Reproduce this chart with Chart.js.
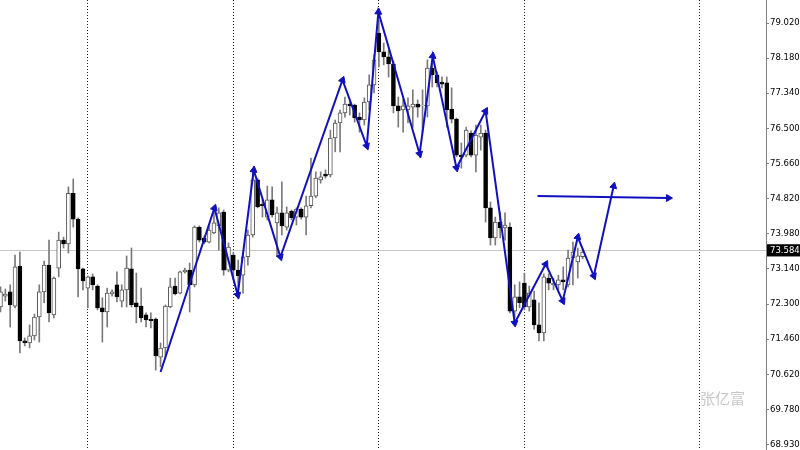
<!DOCTYPE html>
<html>
<head>
<meta charset="utf-8">
<script src="https://cdn.jsdelivr.net/npm/chart.js@4.4.1/dist/chart.umd.min.js"></script>
<style>
  html, body { margin: 0; padding: 0; background: #fff; }
  #wrap { width: 800px; height: 450px; }
</style>
</head>
<body>
<div id="wrap"><canvas id="grafica" width="800" height="450"></canvas></div>
<script>
/* Velas H4: apertura, máximo, mínimo, cierre */
const opens = [
  72.23, 72.49, 72.59, 72.25, 73.21, 71.42, 71.37, 71.54, 71.99, 72.59,
  73.23, 72.04, 73.16, 73.83, 73.74, 74.95, 74.33, 73.14, 72.68, 72.95,
  72.73, 72.21, 72.11, 72.54, 72.76, 72.37, 72.64, 73.14, 72.33, 72.25,
  72.04, 71.94, 71.94, 71.03, 71.25, 72.23, 72.73, 72.56, 73.07, 73.11,
  72.76, 74.14, 73.88, 73.78, 74.00, 74.17, 74.50, 73.11, 73.47, 73.11,
  72.99, 73.43, 73.95, 75.27, 74.69, 74.38, 74.79, 74.24, 74.48, 74.14,
  74.52, 74.38, 74.57, 74.38, 74.65, 74.88, 75.27, 75.41, 75.39, 76.27,
  76.63, 76.87, 77.08, 77.06, 76.77, 76.70, 77.13, 77.54, 78.78, 78.33,
  78.21, 78.04, 77.04, 76.94, 76.94, 77.01, 77.08, 77.04, 77.04, 77.94,
  77.78, 77.61, 77.59, 76.96, 76.72, 75.86, 75.86, 76.39, 75.86, 76.29,
  76.39, 74.60, 73.88, 74.26, 74.12, 74.14, 72.13, 72.47, 72.80, 72.23,
  72.40, 71.80, 71.61, 72.92, 72.76, 72.76, 72.88, 72.76, 73.40, 73.31,
  73.43
];
const highs = [
  72.71, 72.66, 72.76, 73.47, 73.54, 71.49, 71.80, 72.06, 72.76, 73.33,
  73.83, 72.95, 74.02, 73.90, 75.10, 75.29, 74.36, 73.16, 72.97, 73.02,
  72.76, 72.45, 72.68, 72.64, 73.07, 72.76, 73.45, 73.64, 73.04, 72.68,
  72.09, 72.09, 71.97, 71.37, 72.28, 72.92, 72.92, 73.09, 73.16, 73.28,
  74.17, 74.17, 73.93, 74.19, 74.55, 74.60, 74.55, 73.76, 73.54, 73.35,
  73.52, 74.07, 75.46, 75.31, 74.79, 75.12, 75.10, 74.62, 75.22, 74.62,
  74.55, 74.60, 74.60, 74.88, 75.79, 75.46, 75.46, 75.51, 76.46, 76.70,
  76.94, 77.25, 77.18, 77.08, 76.87, 77.23, 77.78, 78.26, 79.09, 78.54,
  78.37, 78.11, 77.25, 77.20, 77.23, 77.42, 77.18, 77.42, 78.14, 78.06,
  77.85, 77.73, 77.73, 77.47, 76.75, 76.15, 76.53, 76.44, 76.58, 76.58,
  76.46, 74.74, 74.38, 74.50, 74.48, 74.24, 72.76, 72.83, 73.04, 72.73,
  72.61, 72.33, 73.02, 73.02, 72.92, 72.99, 73.19, 73.59, 73.78, 73.64,
  73.62
];
const lows = [
  72.11, 72.37, 71.75, 72.21, 71.13, 71.30, 71.25, 71.44, 71.39, 72.33,
  71.87, 71.97, 72.95, 73.64, 73.52, 74.14, 72.47, 72.64, 72.21, 72.64,
  72.16, 71.39, 71.75, 72.49, 72.35, 72.23, 72.23, 72.23, 71.85, 71.87,
  71.75, 71.73, 70.72, 70.80, 71.03, 72.21, 72.52, 72.54, 73.04, 72.11,
  72.71, 73.78, 73.74, 73.76, 73.98, 73.59, 72.99, 73.07, 72.88, 72.59,
  72.56, 73.23, 73.90, 74.60, 74.38, 74.31, 74.38, 73.43, 73.95, 74.07,
  74.31, 74.19, 74.33, 73.95, 74.60, 74.84, 75.19, 75.31, 75.34, 75.94,
  75.94, 76.77, 76.82, 76.65, 76.41, 76.58, 76.94, 77.35, 77.97, 78.02,
  77.73, 76.87, 76.53, 76.41, 76.63, 76.53, 76.77, 76.41, 76.77, 77.49,
  77.49, 77.47, 76.53, 76.63, 75.82, 75.55, 75.82, 75.82, 75.46, 75.98,
  74.26, 73.71, 73.71, 73.88, 73.83, 72.09, 71.97, 72.21, 72.16, 72.13,
  71.70, 71.42, 71.42, 72.64, 72.64, 72.64, 72.64, 72.71, 72.76, 72.92,
  73.38
];
const closes = [
  72.59, 72.54, 72.28, 73.19, 71.42, 71.37, 71.54, 71.99, 72.59, 73.23,
  72.09, 72.92, 73.83, 73.74, 74.95, 74.33, 73.14, 72.85, 72.95, 72.76,
  72.21, 72.11, 72.56, 72.59, 72.47, 72.64, 73.16, 72.28, 72.23, 71.97,
  71.92, 71.90, 71.06, 71.25, 72.25, 72.71, 72.54, 73.07, 73.11, 72.76,
  74.14, 73.83, 73.78, 74.07, 74.24, 74.48, 73.11, 73.66, 73.11, 72.97,
  73.43, 73.95, 75.27, 74.62, 74.65, 74.79, 74.43, 74.48, 74.17, 74.48,
  74.36, 74.57, 74.38, 74.65, 74.88, 75.31, 75.34, 75.36, 76.27, 76.63,
  76.87, 77.08, 77.04, 76.75, 76.70, 77.13, 77.54, 78.14, 78.33, 78.21,
  78.04, 77.04, 76.92, 77.04, 77.04, 77.08, 77.01, 77.06, 77.94, 77.78,
  77.59, 77.56, 76.94, 76.72, 75.86, 75.82, 76.46, 75.86, 76.34, 76.39,
  74.60, 73.88, 74.26, 74.12, 74.19, 72.13, 72.47, 72.33, 72.23, 72.56,
  71.80, 71.61, 72.95, 72.80, 72.80, 72.88, 72.83, 73.40, 73.54, 73.45,
  73.54
];

/* Zigzag azul: índice de vela y precio de cada vértice */
const zigzagIdx = [33.0, 44.1, 48.9, 52.2, 57.7, 70.5, 75.5, 77.9, 86.4, 89.1, 94.0, 100.0, 106.0, 112.4, 115.9, 119.0, 122.3, 126.4];
const zigzagPrice = [70.675, 74.596, 72.516, 75.505, 73.425, 77.657, 76.079, 79.283, 75.888, 78.231, 75.553, 76.916, 71.846, 73.257, 72.372, 73.903, 72.970, 75.122];

/* Flecha horizontal (objetivo) */
const targetIdx = [110.7, 137.7];
const targetPrice = [74.883, 74.835];

/* Separadores semanales y etiquetas del eje de precios */
const weekSeparators = [18, 48, 78, 108, 144];
const priceTicks = [79.020, 78.180, 77.340, 76.500, 75.660, 74.820, 73.980, 73.584, 73.140, 72.300, 71.460, 70.620, 69.780, 68.930];
const lastPrice = 73.584;

const BLUE = "#1010c0";

const wickData = highs.map((h, i) => ({ x: i, y: [lows[i], h] }));
const bodyData = opens.map((o, i) => ({ x: i, y: [o, closes[i]] }));
const zigzagData = zigzagIdx.map((x, i) => ({ x, y: zigzagPrice[i] }));
const targetData = targetIdx.map((x, i) => ({ x, y: targetPrice[i] }));

// rotación de la punta de flecha según el segmento que llega al punto
function arrowRotation(ctx) {
  const i = ctx.dataIndex;
  const data = ctx.dataset.data;
  if (i === 0) return 0;
  const xs = ctx.chart.scales.x, ys = ctx.chart.scales.y;
  const dx = xs.getPixelForValue(data[i].x) - xs.getPixelForValue(data[i - 1].x);
  const dy = ys.getPixelForValue(data[i].y) - ys.getPixelForValue(data[i - 1].y);
  return Math.atan2(dx, -dy) * 180 / Math.PI;
}

// marca de agua
const watermark = {
  id: "watermark",
  afterDraw(chart) {
    const c = chart.ctx;
    c.save();
    c.font = '15px "Noto Sans CJK SC"';
    c.fillStyle = "#c8c8c8";
    c.textBaseline = "middle";
    c.fillText("张亿富", 700, 398);
    c.restore();
  },
};

new Chart(document.getElementById("grafica"), {
  type: "bar",
  data: {
    datasets: [
      {
        type: "line",
        data: zigzagData,
        borderColor: BLUE,
        backgroundColor: BLUE,
        borderWidth: 2,
        tension: 0,
        fill: false,
        pointStyle: "triangle",
        pointRadius: (ctx) => (ctx.dataIndex === 0 ? 0 : 4),
        pointBorderWidth: 1,
        rotation: arrowRotation,
        order: 0,
      },
      {
        type: "line",
        data: targetData,
        borderColor: BLUE,
        backgroundColor: BLUE,
        borderWidth: 2,
        tension: 0,
        fill: false,
        pointStyle: "triangle",
        pointRadius: (ctx) => (ctx.dataIndex === 0 ? 0 : 4),
        pointBorderWidth: 1,
        rotation: arrowRotation,
        order: 0,
      },
      {
        data: bodyData,
        grouped: false,
        barThickness: 4,
        borderSkipped: false,
        borderWidth: 1,
        borderColor: (ctx) => (closes[ctx.dataIndex] >= opens[ctx.dataIndex] ? "#555" : "#000"),
        backgroundColor: (ctx) => (closes[ctx.dataIndex] >= opens[ctx.dataIndex] ? "#fff" : "#000"),
        order: 1,
      },
      {
        data: wickData,
        grouped: false,
        barThickness: 1,
        borderWidth: 0,
        backgroundColor: "#7a7a7a",
        order: 2,
      },
    ],
  },
  options: {
    responsive: false,
    animation: false,
    devicePixelRatio: 1,
    layout: { padding: 0, autoPadding: false },
    plugins: { legend: { display: false }, tooltip: { enabled: false } },
    scales: {
      x: {
        type: "linear",
        min: -0.1,
        max: 157.8,
        offset: false,
        afterBuildTicks: (s) => { s.ticks = weekSeparators.map((v) => ({ value: v })); },
        afterFit: (s) => { s.height = 0; s.paddingLeft = 0; s.paddingRight = 0; },
        ticks: { display: false },
        grid: { offset: false, color: "#222", lineWidth: 1, drawTicks: false },
        border: { display: false, dash: [1, 2] },
      },
      y: {
        type: "linear",
        position: "right",
        min: 68.81,
        max: 79.57,
        afterBuildTicks: (s) => { s.ticks = priceTicks.map((v) => ({ value: v })); },
        afterFit: (s) => { s.width = 34; s.paddingTop = 0; s.paddingBottom = 0; },
        ticks: {
          padding: 1,
          font: { family: "DejaVu Sans", size: 8.5 },
          color: (ctx) => (ctx.tick && ctx.tick.value === lastPrice ? "#fff" : "#000"),
          showLabelBackdrop: (ctx) => !!(ctx.tick && ctx.tick.value === lastPrice),
          backdropColor: "#000",
          backdropPadding: { x: 3, y: 1 },
          callback: (v) => Number(v).toFixed(3),
        },
        grid: {
          drawOnChartArea: true,
          color: (ctx) => (ctx.tick && ctx.tick.value === lastPrice ? "#c8c8c8" : "rgba(0,0,0,0)"),
          tickColor: "#808080",
          tickLength: 3,
        },
        border: { display: true, color: "#808080", width: 1 },
      },
    },
  },
  plugins: [watermark],
});
</script>
</body>
</html>
